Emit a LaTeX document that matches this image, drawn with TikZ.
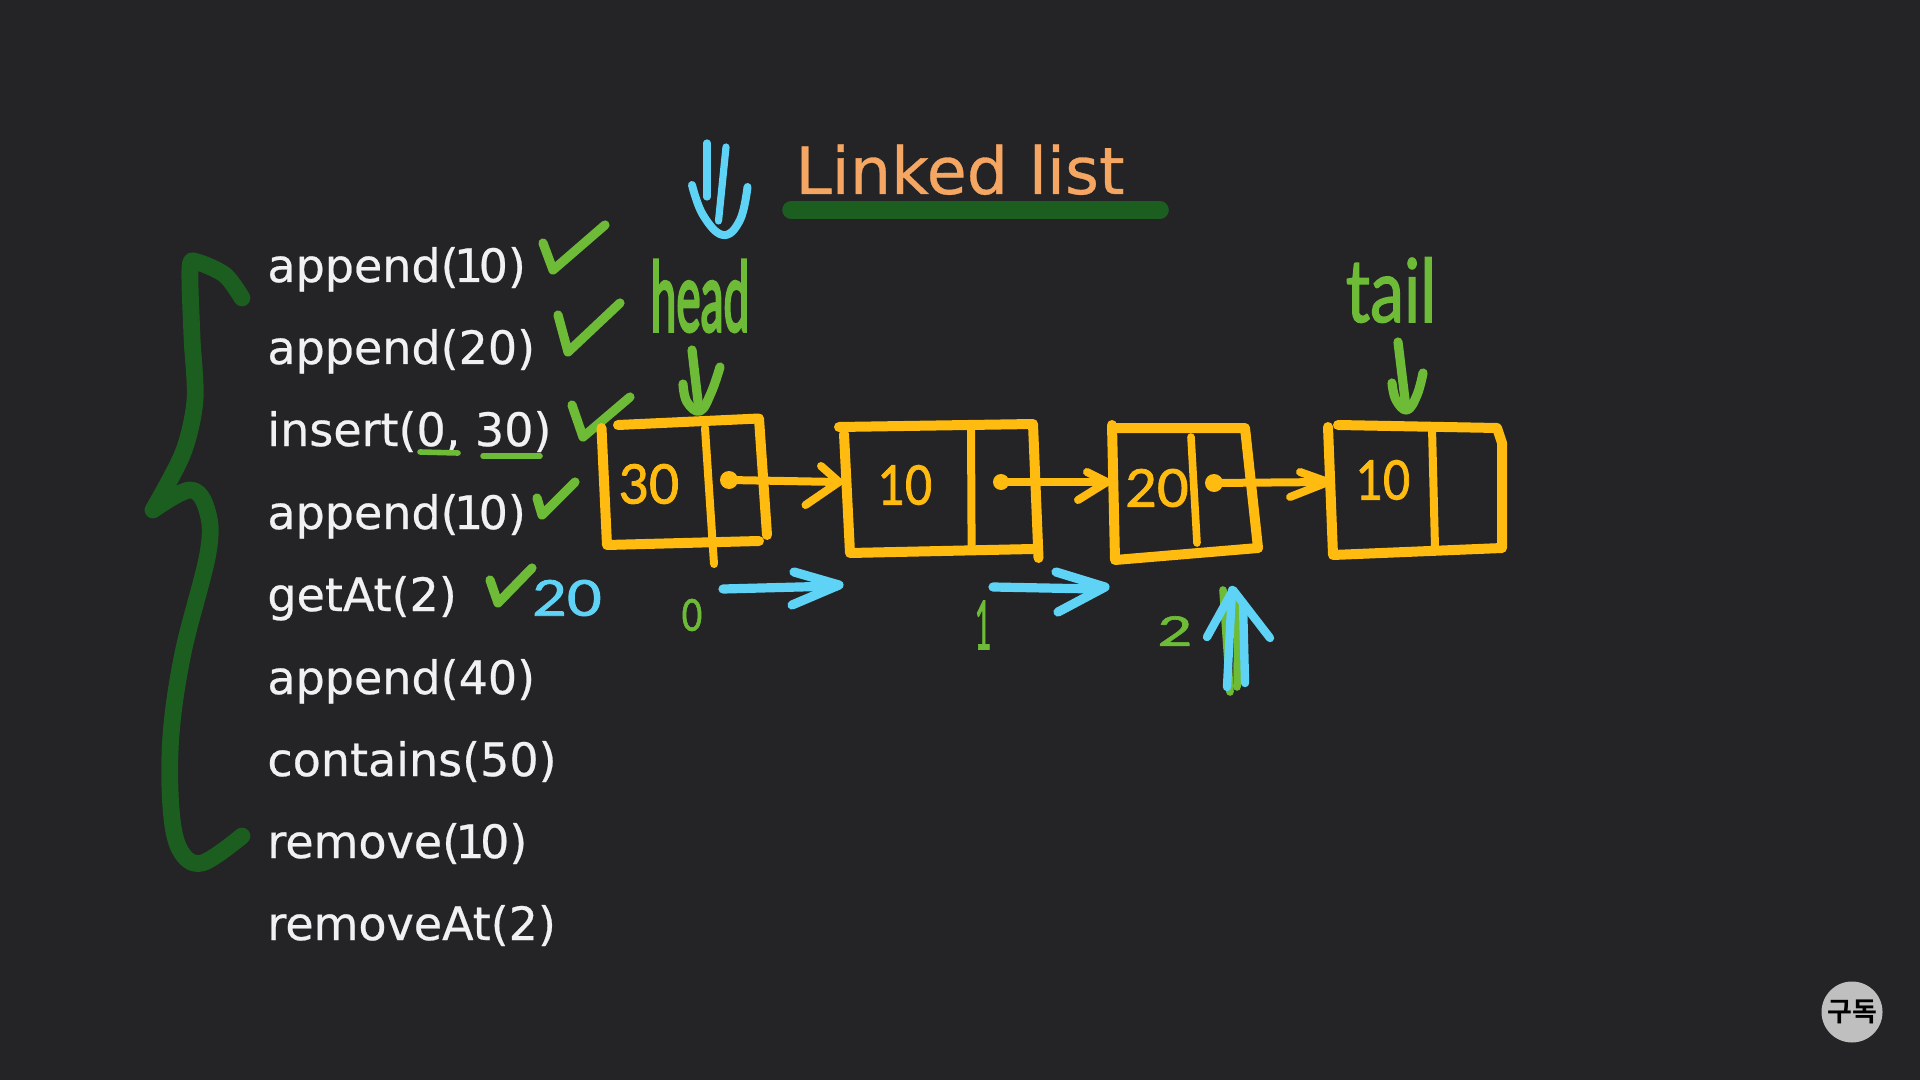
\documentclass[tikz,border=0pt]{standalone}
\usepackage{fontspec}
\setmainfont[FakeBold=0.5]{DejaVu Sans}
\newfontfamily\handf[FakeBold=1.6]{Lato}
\newfontfamily\handb[FakeBold=3.5]{Lato}
\newfontfamily\cjk{Noto Sans CJK KR}[BoldFont={Noto Sans CJK KR Bold}]
\definecolor{bgc}{HTML}{242325}
\definecolor{ora}{HTML}{F5A663}
\definecolor{whi}{HTML}{F1F1F3}
\definecolor{grn}{HTML}{6DBB36}
\definecolor{dgr}{HTML}{1B5E20}
\definecolor{yel}{HTML}{FFBB10}
\definecolor{blu}{HTML}{5FD3F5}
\tikzset{
  ink/.style={line cap=round,line join=round},
  yelline/.style={ink,draw=yel,line width=5pt},
  grnline/.style={ink,draw=grn,line width=4.6pt},
  bluline/.style={ink,draw=blu,line width=4.6pt},
  opline/.style={font=\fontsize{23pt}{28pt}\selectfont,text=whi,anchor=base west,inner sep=0pt},
  handtxt/.style={inner sep=0pt,font=\handf},
}
\newcommand{\hw}[4]{\scalebox{#1}[#2]{\fontsize{#3}{#3}\selectfont #4}}
\newcommand{\nar}{\kern-.1em 1\kern-.1em }
\begin{document}
\begin{tikzpicture}[x=0.5pt,y=-0.5pt]
\useasboundingbox (0,0) rectangle (1920,1080);
\fill[bgc] (0,0) rectangle (1920,1080);

% title
\node[anchor=base,inner sep=0pt,text=ora,font=\fontsize{32.6pt}{40pt}\selectfont] (title) at (960,194) {Linked list};
\coordinate (barL) at (791,210);
\coordinate (barR) at (1160,210);
\draw[ink,dgr,line width=8.8pt] (barL) -- (barR);

% list
\node[opline] (op1) at (267,282) {append(\nar 0)};
\node[opline] (op2) at (267,364) {append(20)};
\node[opline] (op3) at (267,446) {insert(0, 30)};
\node[opline] (op4) at (267,529) {append(\nar 0)};
\node[opline] (op5) at (267,611) {getAt(2)};
\node[opline] (op6) at (267,694) {append(40)};
\node[opline] (op7) at (267,776) {contains(50)};
\node[opline] (op8) at (267,858) {remove(\nar 0)};
\node[opline] (op9) at (267,940) {removeAt(2)};

% brace
\draw[ink,dgr,line width=8.4pt] plot[smooth,tension=.5] coordinates {(242,298) (225,275) (197,262) (190,268) (192,337) (195,400) (183,453) (153,510)}
  -- (160,505) plot[smooth,tension=.6] coordinates {(153,510) (190,490) (207,510) (208,553) (183,653) (171,735) (171,808) (180,850) (202,863) (242,836)};

% checks
\draw[grnline] (543,243) -- (553,270) -- (605,225);
\draw[grnline] (558,315) -- (568,352) -- (620,303);
\draw[grnline] (572,405) -- (583,437) -- (630,397);
\draw[grnline] (537,498) -- (542,515) -- (575,482);
\draw[grnline] (490,580) -- (498,603) -- (532,568);
\draw[ink,grn,line width=2.8pt] (420,452) -- (458,453);
\draw[ink,grn,line width=2.8pt] (483,456) -- (540,456);
\node[handtxt,text=blu] (res) at (567,598) {\hw{1.15}{.95}{26pt}{20}};

% boxes
\draw[yelline] (601.5,428) -- (607,545) -- (759,541);
\draw[yelline] (618,425) -- (759,418.5) -- (767,535);
\draw[yelline,line width=4pt] (705,428) -- (714,564);
\draw[yelline] (844,434) -- (850,553) -- (1033,549);
\draw[yelline] (839,427) -- (1033,424) -- (1038.5,558);
\draw[yelline,line width=4pt] (971,428) -- (971.6,547);
\draw[yelline] (1112,425) -- (1115,560) -- (1258,548);
\draw[yelline] (1112,428) -- (1245,428) -- (1258,548);
\draw[yelline,line width=3.8pt] (1191,437) -- (1197,543);
\draw[yelline] (1328,427) -- (1333,555) -- (1502,548) -- (1502,443) -- (1497,428) -- (1338,425);
\draw[yelline,line width=4pt] (1432,428) -- (1435,548);

\node[handtxt,text=yel] (v1) at (649,484) {\hw{1}{1.05}{26pt}{30}};
\node[handtxt,text=yel] (v2) at (905,485) {\hw{.9}{1.05}{26pt}{10}};
\node[handtxt,text=yel] (v3) at (1157,488) {\hw{1.05}{1}{26pt}{20}};
\node[handtxt,text=yel] (v4) at (1383,480) {\hw{.9}{1.05}{26pt}{10}};

% links
\coordinate (d1) at (729,480); \coordinate (t1) at (839,482);
\coordinate (d2) at (1001,482); \coordinate (t2) at (1107,482);
\coordinate (d3) at (1214,483); \coordinate (t3) at (1328,482);
\fill[yel] (d1) circle[radius=4.5pt];
\fill[yel] (d2) circle[radius=4pt];
\fill[yel] (d3) circle[radius=4.5pt];
\draw[yelline,line width=4pt] (d1) -- (t1);
\draw[yelline,line width=4pt] (821,466) -- (t1) -- (805.5,505);
\draw[yelline,line width=4pt] (d2) -- (t2);
\draw[yelline,line width=4pt] (1087,472) -- (t2) -- (1078,500);
\draw[yelline,line width=4pt] (d3) -- (t3);
\draw[yelline,line width=4pt] (1300,472) -- (t3) -- (1290,497);

% head / tail
\node[handtxt,font=\handb,text=grn] (head) at (700,296) {\hw{.5}{1.05}{46pt}{head}};
\node[handtxt,text=grn] (tail) at (1391,290) {\hw{.85}{1.1}{40pt}{tail}};
\coordinate (hs) at (692,350); \coordinate (ht) at (699,410);
\draw[grnline] (hs) -- (ht);
\draw[grnline] plot[smooth,tension=.7] coordinates {(683,384) (687,402) (700,411) (711,393) (720,367)};
\coordinate (ts) at (1398,342); \coordinate (tt) at (1406,408);
\draw[grnline] (ts) -- (tt);
\draw[grnline] plot[smooth,tension=.7] coordinates {(1392,383) (1396,400) (1407,410) (1417,395) (1423,373)};

% top blue arrow
\draw[bluline,line width=3.6pt] (707,143) -- (707,197);
\draw[bluline,line width=3.6pt] (726,147) -- (718.5,221);
\draw[bluline,line width=4pt] plot[smooth,tension=.7] coordinates {(692,185) (703,215) (723,235) (740,220) (747.5,187)};

% cursor arrows
\coordinate (c1a) at (723,589); \coordinate (c1b) at (837,586);
\draw[bluline] (c1a) -- (c1b);
\draw[bluline] (794,572) -- (839,585) -- (792,605);
\coordinate (c2a) at (993,587); \coordinate (c2b) at (1096,589);
\draw[bluline] (c2a) -- (c2b);
\draw[bluline] (1056,572) -- (1105,587) -- (1058,612);

% indices
\node[handtxt,text=grn] (i0) at (692,615) {\hw{.8}{1}{22pt}{0}};
\node[handtxt,text=grn] (i1) at (983,625) {\hw{.55}{1.3}{26pt}{1}};
\node[handtxt,text=grn] (i2) at (1175,631) {\hw{1.25}{.85}{24pt}{2}};

% up arrow
\draw[grnline,line width=3.8pt] (1223,590) -- (1230,692);
\draw[grnline,line width=3.8pt] (1238,600) -- (1237,687);
\draw[bluline,line width=4.2pt] (1232,590) -- (1227,687);
\draw[bluline,line width=4.2pt] (1243,603) -- (1245,683);
\draw[bluline,line width=4.2pt] (1207,637) -- (1233,590) -- (1270,638);

% badge
\node[circle,fill=black!25!white,minimum size=30.5pt,inner sep=0pt] (badge) at (1852,1012) {};
\node[inner sep=0pt,text=black,font=\cjk\bfseries\fontsize{13.5pt}{14pt}\selectfont] (badgetxt) at (badge.center) {구독};
\end{tikzpicture}
\end{document}
